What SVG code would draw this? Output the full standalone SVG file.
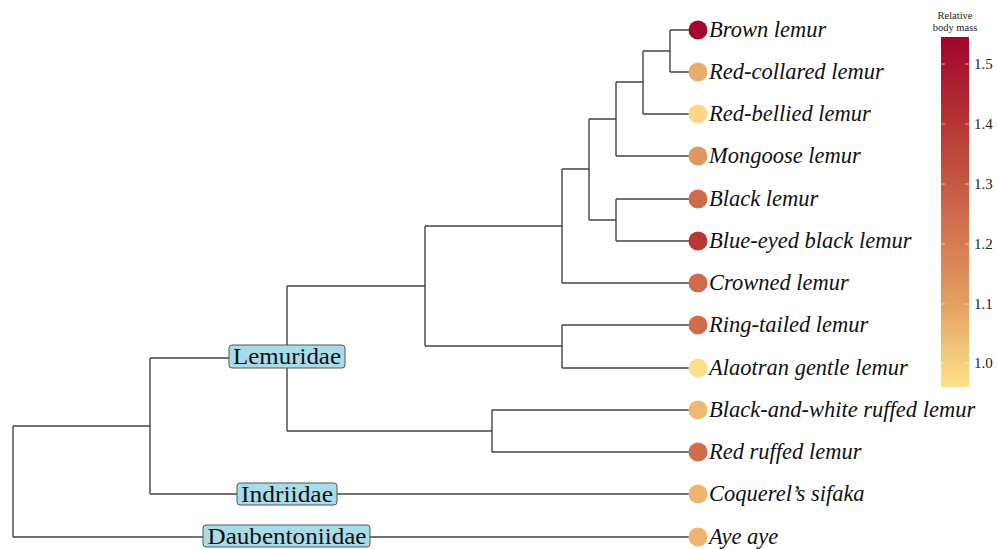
<svg xmlns="http://www.w3.org/2000/svg" width="997" height="549" viewBox="0 0 997 549">
<style>
.edge{fill:none;stroke:#444;stroke-width:1.4}
.tip{font-family:"Liberation Serif",serif;font-style:italic;font-size:22.5px;fill:#111}
.fam rect{fill:#a9dcea;stroke:#555;stroke-width:1}
.fam text{font-family:"Liberation Serif",serif;font-size:23px;fill:#111;text-anchor:middle}
.tick{font-family:"Liberation Serif",serif;font-size:15px;fill:#222}
.ttl{font-family:"Liberation Serif",serif;font-size:10.5px;fill:#222;text-anchor:middle}
.tm{stroke:#fff;stroke-opacity:0.6;stroke-width:1}
</style>
<defs>
<linearGradient id="g" x1="0" y1="0" x2="0" y2="1">
<stop offset="0" stop-color="#a0052b"/>
<stop offset="0.25" stop-color="#b63634"/>
<stop offset="0.5" stop-color="#cd6a4c"/>
<stop offset="0.75" stop-color="#e39c5f"/>
<stop offset="1" stop-color="#fde28c"/>
</linearGradient>
</defs>
<rect width="997" height="549" fill="#fff"/>
<g id="connectors">
<path class="edge" d="M670,30 V72 M670,30 H698 M670,72 H698"/>
<path class="edge" d="M643,51 V114 M643,51 H670 M643,114 H698"/>
<path class="edge" d="M616,82 V156 M616,82 H643 M616,156 H698"/>
<path class="edge" d="M616,199 V241 M616,199 H698 M616,241 H698"/>
<path class="edge" d="M589,119 V220 M589,119 H616 M589,220 H616"/>
<path class="edge" d="M562,169 V283 M562,169 H589 M562,283 H698"/>
<path class="edge" d="M562,325 V368 M562,325 H698 M562,368 H698"/>
<path class="edge" d="M425,226 V346 M425,226 H562 M425,346 H562"/>
<path class="edge" d="M492,410 V452 M492,410 H698 M492,452 H698"/>
<path class="edge" d="M287,286 V431 M287,286 H425 M287,431 H492"/>
<path class="edge" d="M150,358 V494 M150,358 H287 M150,494 H698"/>
<path class="edge" d="M13,426 V537 M13,426 H150 M13,537 H698"/>
</g>
<g id="fam-lemuridae" class="fam"><rect x="229" y="345" width="116" height="23" rx="3"/><text x="287" y="364" textLength="108" lengthAdjust="spacingAndGlyphs">Lemuridae</text></g>
<g id="fam-indriidae" class="fam"><rect x="237" y="483" width="100" height="22" rx="3"/><text x="287" y="502" textLength="92" lengthAdjust="spacingAndGlyphs">Indriidae</text></g>
<g id="fam-daubentoniidae" class="fam"><rect x="203" y="525" width="167" height="22" rx="3"/><text x="287" y="544" textLength="159" lengthAdjust="spacingAndGlyphs">Daubentoniidae</text></g>
<g id="tip-brown"><circle cx="698" cy="30" r="9.5" fill="#a2082b"/><text class="tip" x="709" y="37">Brown lemur</text></g>
<g id="tip-red-collared"><circle cx="698" cy="72" r="9.5" fill="#e8ae6d"/><text class="tip" x="709" y="79">Red-collared lemur</text></g>
<g id="tip-red-bellied"><circle cx="698" cy="114" r="9.5" fill="#fbd886"/><text class="tip" x="709" y="121">Red-bellied lemur</text></g>
<g id="tip-mongoose"><circle cx="698" cy="156" r="9.5" fill="#e0985f"/><text class="tip" x="709" y="163">Mongoose lemur</text></g>
<g id="tip-black"><circle cx="698" cy="199" r="9.5" fill="#cf6a4a"/><text class="tip" x="709" y="206">Black lemur</text></g>
<g id="tip-blue-eyed"><circle cx="698" cy="241" r="9.5" fill="#ba3834"/><text class="tip" x="709" y="248">Blue-eyed black lemur</text></g>
<g id="tip-crowned"><circle cx="698" cy="283" r="9.5" fill="#cf6a4a"/><text class="tip" x="709" y="290">Crowned lemur</text></g>
<g id="tip-ring-tailed"><circle cx="698" cy="325" r="9.5" fill="#d06c4b"/><text class="tip" x="709" y="332">Ring-tailed lemur</text></g>
<g id="tip-alaotran"><circle cx="698" cy="368" r="9.5" fill="#fcdf8b"/><text class="tip" x="709" y="375">Alaotran gentle lemur</text></g>
<g id="tip-bw-ruffed"><circle cx="698" cy="410" r="9.5" fill="#eeba73"/><text class="tip" x="709" y="417">Black-and-white ruffed lemur</text></g>
<g id="tip-red-ruffed"><circle cx="698" cy="452" r="9.5" fill="#d06c4b"/><text class="tip" x="709" y="459">Red ruffed lemur</text></g>
<g id="tip-coquerel"><circle cx="698" cy="494" r="9.5" fill="#ecb670"/><text class="tip" x="709" y="501">Coquerel’s sifaka</text></g>
<g id="tip-aye-aye"><circle cx="698" cy="537" r="9.5" fill="#ecb670"/><text class="tip" x="709" y="544">Aye aye</text></g>
<g id="legend">
<text class="ttl" x="955" y="19">Relative</text>
<text class="ttl" x="955" y="31">body mass</text>
<rect x="941" y="37" width="28" height="350" fill="url(#g)"/>
<path class="tm" d="M941,64 h4 M965,64 h4 M941,124 h4 M965,124 h4 M941,184 h4 M965,184 h4 M941,244 h4 M965,244 h4 M941,304 h4 M965,304 h4 M941,363 h4 M965,363 h4"/>
<text class="tick" x="974" y="69">1.5</text>
<text class="tick" x="974" y="129">1.4</text>
<text class="tick" x="974" y="189">1.3</text>
<text class="tick" x="974" y="249">1.2</text>
<text class="tick" x="974" y="309">1.1</text>
<text class="tick" x="974" y="368">1.0</text>
</g>
</svg>
